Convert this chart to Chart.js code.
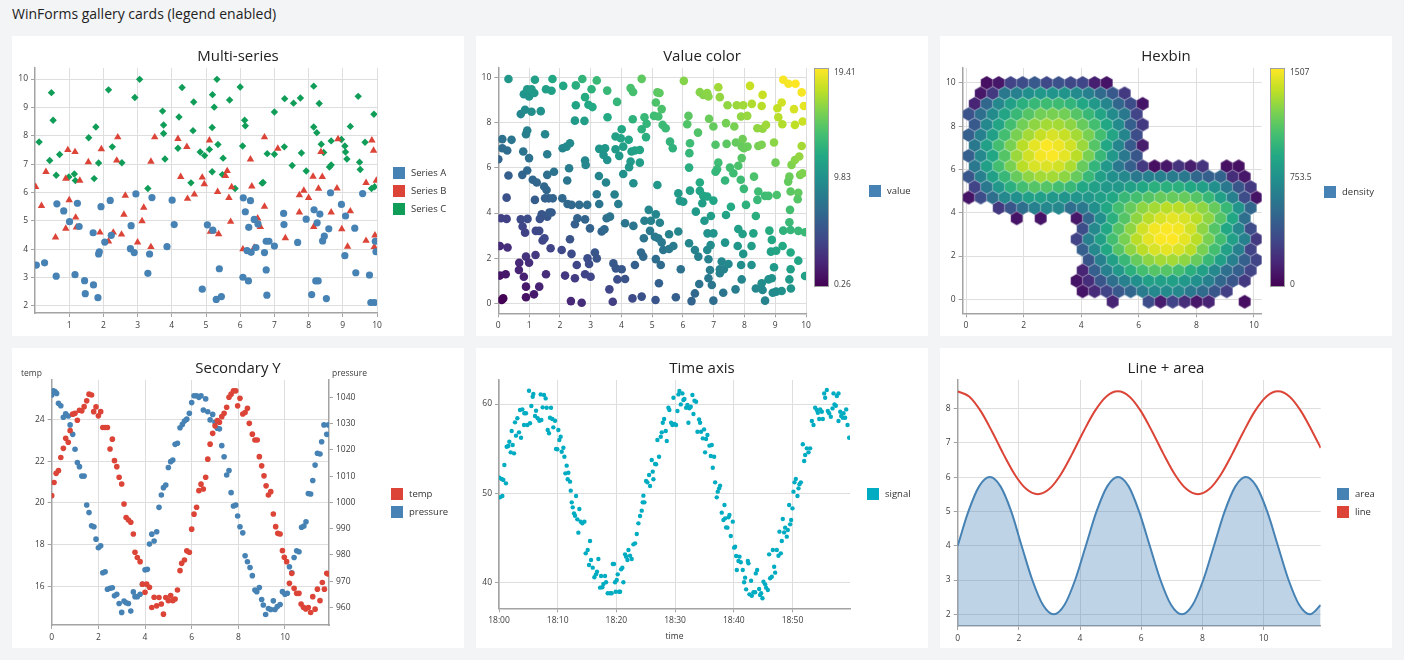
<!DOCTYPE html>
<html lang="en">
<head>
<meta charset="UTF-8" />
<title>WinForms gallery cards (legend enabled)</title>
<script src="https://cdn.jsdelivr.net/npm/chart.js"></script>
<style>
  html, body { margin: 0; }
  body { width: 1404px; height: 660px; background: #f3f4f6; font-family: 'Open Sans', sans-serif; position: relative; overflow: hidden; }
  .page-title { position: absolute; left: 12px; top: 4px; font-size: 14px; line-height: 19px; color: #222; }
  .card { position: absolute; width: 452px; height: 300px; background: #fff; }
  .card canvas { position: absolute; left: 0; top: 0; }
  .card-title { position: absolute; left: 0; top: 10px; width: 452px; text-align: center; font-size: 15px; line-height: 18px; color: #222; }
  .legend { position: absolute; font-size: 9.5px; color: #333; }
  .legend .item { position: relative; height: 18px; padding-left: 18px; line-height: 12px; white-space: nowrap; }
  .legend .swatch { position: absolute; left: 0; top: 0; width: 12px; height: 12px; }
  .cbar { position: absolute; width: 13px; height: 217px; border: 1.5px solid #a0a0a0; }
  .small-label { position: absolute; font-size: 8.5px; line-height: 10px; color: #3c3c3c; white-space: nowrap; }
</style>
</head>
<body>
<div class="page-title" id="pageTitle"></div>

<div class="card" id="card1" style="left:12px;top:36px"><canvas id="c1" width="452" height="300"></canvas></div>
<div class="card" id="card2" style="left:476px;top:36px"><canvas id="c2" width="452" height="300"></canvas></div>
<div class="card" id="card3" style="left:940px;top:36px"><canvas id="c3" width="452" height="300"></canvas></div>
<div class="card" id="card4" style="left:12px;top:348px"><canvas id="c4" width="452" height="300"></canvas></div>
<div class="card" id="card5" style="left:476px;top:348px"><canvas id="c5" width="452" height="300"></canvas></div>
<div class="card" id="card6" style="left:940px;top:348px"><canvas id="c6" width="452" height="300"></canvas></div>

<script>
  // ---------------- data ----------------
  const pageTitle = 'WinForms gallery cards (legend enabled)';
  const cardTitles = ['Multi-series', 'Value color', 'Hexbin', 'Secondary Y', 'Time axis', 'Line + area'];

  // Multi-series
  const seriesNames = ['Series A', 'Series B', 'Series C'];
  const seriesA = [[0.04,3.44],[0.28,3.52],[0.62,3.05],[0.64,5.6],[0.84,5.35],[1.01,4.97],[1.17,3.1],[1.24,5.62],[1.29,4.8],[1.45,2.89],[1.47,2.43],[1.7,4.58],[1.71,2.74],[1.84,2.29],[1.86,3.83],[1.88,3.91],[1.93,5.5],[2.04,4.25],[2.2,5.72],[2.23,4.49],[2.79,4.02],[2.81,4.83],[2.9,3.88],[2.95,5.95],[3.3,3.15],[3.35,3.83],[3.42,5.82],[3.86,4.09],[4.01,5.73],[4.07,4.87],[4.89,2.59],[5.04,4.86],[5.2,4.67],[5.3,2.23],[5.39,3.31],[5.45,2.33],[6.08,3.01],[6.09,5.81],[6.15,5.32],[6.2,3.95],[6.24,2.88],[6.25,4.77],[6.3,5.71],[6.32,3.89],[6.41,5.05],[6.46,4.06],[6.52,4.89],[6.71,3.88],[6.76,3.27],[6.76,4.28],[6.78,2.38],[6.84,4.28],[7.0,4.11],[7.27,5.26],[7.28,4.87],[7.68,4.24],[7.93,5.06],[8.09,2.4],[8.16,5.39],[8.21,2.88],[8.25,4.93],[8.28,2.88],[8.33,5.24],[8.41,4.29],[8.46,4.46],[8.52,2.26],[8.59,4.72],[8.64,5.99],[8.96,5.58],[9.06,3.77],[9.08,5.17],[9.35,4.74],[9.38,3.17],[9.58,5.96],[9.78,3.09],[9.82,2.12],[9.92,2.12],[9.95,4.28],[9.97,3.91]];
  const seriesB = [[0.02,6.2],[0.19,5.53],[0.32,6.73],[0.6,4.42],[0.9,4.73],[0.9,6.49],[0.96,7.5],[1.0,5.73],[1.17,7.43],[1.19,5.12],[1.21,4.77],[1.31,6.42],[1.56,7.07],[1.9,4.59],[1.94,7.53],[2.15,4.28],[2.29,4.59],[2.39,7.13],[2.42,7.95],[2.53,4.52],[2.6,5.22],[2.64,5.89],[3.0,4.24],[3.13,4.99],[3.18,5.47],[3.39,7.09],[3.39,4.08],[3.5,7.95],[4.18,7.89],[4.26,6.55],[4.44,7.61],[4.46,5.78],[4.66,5.93],[4.89,6.53],[4.95,6.3],[5.1,7.84],[5.13,4.62],[5.22,4.64],[5.34,6.02],[5.37,4.53],[5.57,6.59],[5.62,6.76],[5.67,5.81],[5.72,4.97],[5.75,6.19],[6.08,4.0],[6.3,7.17],[6.34,6.22],[6.41,4.06],[6.51,5.09],[6.59,4.79],[6.71,7.95],[6.71,5.5],[7.1,7.55],[7.32,4.39],[7.73,5.91],[7.73,5.3],[7.86,6.07],[8.0,5.81],[8.15,4.79],[8.13,6.56],[8.29,6.14],[8.36,7.43],[8.4,6.55],[8.66,5.3],[8.83,6.15],[8.86,7.88],[8.97,4.71],[9.14,4.09],[9.22,5.34],[9.68,4.3],[9.68,6.34],[9.85,7.84],[9.9,7.48],[9.92,4.08],[9.94,4.49],[9.98,6.42]];
  const seriesC = [[0.12,7.78],[0.43,7.13],[0.48,9.52],[0.53,8.55],[0.62,6.61],[0.72,7.34],[0.99,6.55],[1.15,6.65],[1.18,6.42],[1.57,7.93],[1.73,6.49],[1.78,8.31],[1.86,7.04],[2.15,9.62],[2.26,7.61],[2.54,7.05],[2.92,9.35],[3.06,9.99],[3.3,6.14],[3.73,8.87],[3.76,8.38],[3.76,8.08],[3.8,7.18],[4.21,8.66],[4.18,7.56],[4.3,9.7],[4.56,6.34],[4.64,9.19],[4.62,8.18],[4.83,7.43],[4.96,7.3],[5.1,7.52],[5.18,8.29],[5.19,9.45],[5.18,6.73],[5.24,9.01],[5.32,9.99],[5.35,7.69],[5.5,7.21],[5.48,6.63],[5.69,9.26],[5.85,6.14],[6.0,9.72],[6.07,7.64],[6.13,8.55],[6.15,8.35],[6.64,6.33],[6.67,6.35],[6.79,7.37],[7.0,8.84],[7.0,7.35],[7.29,7.61],[7.3,9.31],[7.52,6.95],[7.56,9.15],[7.76,9.33],[7.79,7.39],[7.93,6.76],[8.15,9.75],[8.15,8.31],[8.24,8.11],[8.31,9.14],[8.37,7.7],[8.44,7.41],[8.61,6.9],[8.66,6.97],[8.66,7.82],[8.96,7.87],[9.06,7.64],[9.08,7.43],[9.12,7.18],[9.22,8.33],[9.45,9.39],[9.49,7.07],[9.51,6.81],[9.65,7.77],[9.84,6.14],[9.91,8.76],[9.93,6.2]];
  const multiXTicks = [1, 2, 3, 4, 5, 6, 7, 8, 9, 10];
  const multiYTicks = [2, 3, 4, 5, 6, 7, 8, 9, 10];

  // Value color: [x, y, value]
  const valueNames = ['value'];
  const valuePoints = [
    [0.33,9.93,10.3],[0.73,8.38,9.1],[0.87,8.57,9.4],[1.08,8.48,9.6],[1.38,8.51,9.9],[0.83,9.26,10.1],[0.94,9.48,10.4],[1.0,9.16,10.2],[1.08,9.48,10.6],[1.17,9.31,10.5],
    [1.19,9.9,11.1],[1.55,9.48,11.0],[1.73,9.41,11.1],[1.76,9.93,11.7],[2.11,9.63,11.7],[2.52,9.65,12.2],[2.52,8.77,11.3],[2.49,8.09,10.6],[2.8,8.08,10.9],[2.73,9.93,12.7],
    [2.82,9.13,12.0],[2.93,8.79,11.7],[3.06,8.69,11.8],[3.03,9.48,12.5],[3.2,9.87,13.1],[3.54,9.42,13.0],[3.55,8.24,11.8],[3.86,8.92,12.8],[4.3,9.53,13.8],[4.38,9.36,13.7],
    [4.37,8.15,12.5],[4.66,9.94,14.6],[4.75,8.24,13.0],[4.82,7.95,12.8],[4.66,7.71,12.4],[4.8,7.36,12.2],[5.06,8.3,13.4],[5.12,8.89,14.0],[5.17,9.34,14.5],[5.24,9.31,14.6],
    [5.31,8.6,13.9],[5.2,8.27,13.5],[5.34,7.9,13.2],[5.44,7.75,13.2],[5.58,7.16,12.7],[5.67,6.87,12.5],[6.03,9.85,15.9],[6.18,8.3,14.5],[6.14,7.93,14.1],[6.23,7.09,13.3],
    [6.21,6.65,12.9],[6.2,6.01,12.2],[6.49,7.56,14.1],[6.55,9.35,15.9],[6.66,9.23,15.9],[6.79,9.31,16.1],[6.83,9.16,16.0],[6.85,8.17,15.0],[6.99,7.83,14.8],[7.06,7.02,14.1],
    [7.15,9.57,16.7],[7.2,9.13,16.3],[7.4,7.98,15.4],[7.45,8.77,16.2],[7.75,8.77,16.5],[7.67,7.83,15.5],[7.96,8.77,16.7],[7.89,8.27,16.2],[8.18,9.63,17.8],[8.24,8.83,17.1],
    [8.09,8.3,16.4],[8.59,9.23,17.8],[8.56,8.74,17.3],[8.42,7.75,16.2],[8.59,7.73,16.3],[8.7,7.9,16.6],[9.26,9.9,19.2],[9.43,9.72,19.2],[9.66,9.72,19.4],[9.86,9.34,19.2],
    [9.21,8.89,18.1],[9.07,8.64,17.7],[9.1,8.24,17.3],[9.23,7.93,17.2],[9.61,8.6,18.2],[9.64,7.9,17.5],[9.93,8.74,18.7],[9.89,8.05,17.9],
    [0.13,7.27,7.4],[0.43,7.24,7.7],[0.0,6.38,6.4],[0.13,6.87,7.0],[0.29,6.77,7.1],[0.33,5.66,6.0],[0.27,4.68,5.0],[0.94,7.65,8.6],[0.9,7.49,8.4],[0.81,6.72,7.5],
    [1.0,6.43,7.4],[0.94,5.88,6.8],[0.78,5.69,6.5],[1.52,7.49,9.0],[1.59,6.6,8.2],[1.59,5.69,7.3],[1.81,5.83,7.6],[1.12,5.47,6.6],[1.25,5.35,6.6],[1.49,5.17,6.7],
    [1.57,5.02,6.6],[1.64,4.65,6.3],[1.77,4.65,6.4],[1.19,4.58,5.8],[1.52,4.65,6.2],[2.09,6.87,9.0],[2.22,6.94,9.2],[2.33,7.09,9.4],[2.3,5.98,8.3],[2.24,5.44,7.7],
    [2.08,4.65,6.7],[2.25,4.4,6.7],[2.38,4.36,6.7],[2.63,4.36,7.0],[2.89,4.36,7.3],[2.82,6.32,9.1],[2.84,6.13,9.0],[3.28,6.84,10.1],[3.47,6.87,10.3],[3.42,6.57,10.0],
    [3.54,6.35,9.9],[3.27,5.64,8.9],[3.5,5.35,8.9],[3.2,4.83,8.0],[3.28,4.4,7.7],[3.78,4.82,8.6],[3.9,4.4,8.3],[3.81,7.39,11.2],[4.01,7.71,11.7],[3.98,7.31,11.3],
    [4.06,6.94,11.0],[3.81,6.82,10.6],[3.93,6.53,10.5],[4.24,7.24,11.5],[4.33,6.72,11.1],[4.3,6.28,10.6],[4.25,6.03,10.3],[4.44,6.77,11.2],[4.6,6.79,11.4],[4.6,6.23,10.8],
    [4.06,5.73,9.8],[4.39,5.32,9.7],[5.17,5.24,10.4],[5.85,4.87,10.7],[5.9,4.53,10.4],[6.01,4.5,10.5],[6.23,4.99,11.2],[6.55,5.35,11.9],[6.55,4.98,11.5],[6.66,4.76,11.4],
    [6.79,4.73,11.5],[6.63,4.43,11.1],[6.42,4.06,10.5],[6.7,3.66,10.4],[6.91,3.87,10.8],[6.99,4.55,11.5],[7.15,6.23,13.4],[7.11,5.94,13.1],[7.06,5.83,12.9],[7.37,5.44,12.8],
    [7.56,4.28,11.8],[7.4,3.91,11.3],[7.42,7.06,14.5],[7.53,6.01,13.5],[7.64,5.76,13.4],[7.72,7.12,14.8],[7.8,6.09,13.9],[7.94,7.27,15.2],[7.91,6.94,14.9],[7.98,6.87,14.9],
    [7.91,6.43,14.3],[7.88,5.47,13.4],[7.98,5.07,13.1],[8.1,6.94,15.0],[8.31,5.61,13.9],[8.05,4.36,12.4],[8.45,6.97,15.4],[8.56,7.02,15.6],[8.45,4.95,13.4],[8.42,4.58,13.0],
    [8.67,4.76,13.4],[8.78,4.76,13.5],[8.37,3.87,12.2],[8.96,7.12,16.1],[9.01,6.23,15.2],[9.05,4.8,13.9],[9.53,6.13,15.7],[9.64,6.35,16.0],[9.78,6.5,16.3],[9.86,6.97,16.8],
    [9.81,5.69,15.5],[9.89,5.76,15.7],[9.46,5.61,15.1],[9.42,5.39,14.8],[9.5,4.95,14.5],[9.75,4.9,14.7],[9.73,4.61,14.3],[9.48,4.14,13.6],[9.46,3.59,13.1],
    [0.09,3.77,3.9],[0.27,3.74,4.0],[0.73,3.72,4.5],[0.95,3.74,4.7],[0.79,3.4,4.2],[0.87,3.13,4.0],[1.22,3.21,4.4],[1.33,3.21,4.5],[1.35,3.74,5.1],[1.41,3.94,5.4],
    [1.59,3.84,5.4],[1.66,4.02,5.7],[1.73,4.02,5.8],[1.44,2.78,4.2],[1.5,2.88,4.4],[1.7,2.44,4.1],[0.05,2.54,2.6],[0.3,2.47,2.8],[0.9,2.07,3.0],[1.21,2.14,3.4],
    [1.0,1.8,2.8],[0.68,1.8,2.5],[0.67,1.48,2.2],[0.83,1.18,2.0],[0.05,1.23,1.3],[0.24,1.29,1.5],[0.9,0.74,1.6],[1.33,0.74,2.1],[1.16,0.4,1.6],[0.9,0.27,1.2],
    [0.16,0.22,0.4],[0.11,0.15,0.3],[1.55,1.29,2.8],[2.06,2.36,4.4],[2.33,2.84,5.2],[2.49,3.5,6.0],[2.57,3.77,6.3],[2.82,3.72,6.5],[2.98,3.32,6.3],[2.38,2.19,4.6],
    [2.55,1.7,4.3],[2.9,1.99,4.9],[2.95,1.74,4.7],[3.14,2.25,5.4],[3.2,1.99,5.2],[2.17,1.23,3.4],[2.49,1.11,3.6],[2.82,1.29,4.1],[3.0,1.18,4.2],[2.36,0.1,2.5],
    [2.71,0.03,2.7],[3.36,3.18,6.5],[3.45,3.28,6.7],[3.52,3.77,7.3],[3.63,3.84,7.5],[3.74,1.77,5.5],[3.82,1.55,5.4],[4.01,1.51,5.5],[3.87,1.06,4.9],[4.12,1.08,5.2],
    [3.61,0.62,4.2],[3.72,0.07,3.8],[4.12,3.55,7.7],[4.39,3.43,7.8],[4.44,1.7,6.1],[4.36,0.22,4.6],[4.66,0.3,5.0],[4.64,2.25,6.9],[4.71,2.07,6.8],[4.73,2.88,7.6],
    [4.75,3.66,8.4],[4.96,3.66,8.6],[4.89,4.14,9.0],[5.12,3.94,9.1],[5.25,3.57,8.8],[4.93,3.21,8.1],[5.09,2.95,8.0],[5.2,2.88,8.1],[5.31,2.7,8.0],[5.36,2.36,7.7],
    [5.55,2.41,8.0],[5.55,3.06,8.6],[5.69,2.54,8.2],[5.12,1.96,7.1],[5.28,1.7,7.0],[5.22,0.89,6.1],[5.11,0.15,5.3],[5.77,0.27,6.0],[5.93,1.51,7.4],[5.85,3.18,9.0],
    [6.2,2.66,8.9],[6.39,2.36,8.8],[6.5,2.07,8.6],[6.53,0.86,7.4],[6.39,0.44,6.8],[6.28,0.1,6.4],[6.8,3.1,9.9],[6.99,3.1,10.1],[6.9,2.58,9.5],[6.79,2.36,9.2],
    [6.83,1.95,8.8],[6.88,1.48,8.4],[6.83,1.11,7.9],[6.94,0.81,7.8],[6.99,0.12,7.1],[7.26,1.85,9.1],[7.2,1.51,8.7],[7.2,1.33,8.5],[7.33,1.51,8.8],[7.48,1.74,9.2],
    [7.37,2.69,10.1],[7.31,0.47,7.8],[7.71,0.62,8.3],[7.8,3.29,11.1],[7.94,3.07,11.0],[7.78,2.54,10.3],[7.96,2.19,10.2],[7.89,1.7,9.6],[7.91,1.06,9.0],[8.23,2.54,10.8],
    [8.29,3.1,11.4],[8.23,1.7,9.9],[8.81,3.22,12.0],[8.89,2.81,11.7],[8.86,2.29,11.2],[9.03,2.33,11.4],[8.96,1.6,10.6],[9.26,3.22,12.5],[9.5,3.25,12.8],[9.75,3.21,13.0],
    [9.97,3.15,13.1],[9.24,2.54,11.8],[9.5,2.25,11.8],[9.75,1.89,11.6],[9.5,1.51,11.0],[9.46,1.06,10.5],[9.51,0.66,10.2],[9.21,0.55,9.8],[9.03,0.52,9.6],[8.89,1.11,10.0],
    [8.78,1.06,9.8],[8.56,0.89,9.5],[8.37,0.66,9.0],[8.59,0.59,9.2],[8.67,0.12,8.8],[8.92,0.47,9.4],[9.97,1.21,11.2]
  ];
  const valueRange = [0.26, 19.41];
  const valueBarLabels = ['19.41', '9.83', '0.26'];
  const valueXTicks = [0, 1, 2, 3, 4, 5, 6, 7, 8, 9, 10];
  const valueYTicks = [0, 2, 4, 6, 8, 10];

  // Hexbin: one entry per hex row, top row first: [first column, densities]
  const densityNames = ['density'];
  const hexRows = [
    [2, [60,100,300,350,420,330,380,330,320,130,80]],
    [1, [100,250,600,650,750,800,780,780,720,650,520,420,250]],
    [1, [150,500,700,850,950,1000,1030,1030,980,900,800,680,500,350,80]],
    [0, [380,550,720,880,1000,1100,1180,1200,1180,1100,1000,880,720,600,300]],
    [1, [420,700,880,1050,1180,1250,1300,1300,1250,1150,1050,900,720,450,250]],
    [0, [450,650,850,1050,1200,1300,1380,1420,1380,1300,1200,1050,880,680,350]],
    [1, [600,850,1050,1200,1350,1450,1500,1470,1400,1280,1100,900,680,430,120]],
    [0, [450,700,900,1100,1280,1400,1480,1500,1450,1350,1200,1000,800,600,400]],
    [1, [600,850,1050,1200,1350,1420,1430,1400,1320,1150,980,800,600,450,250,60,100,220,120,230,null,70,70]],
    [0, [400,650,850,1000,1150,1250,1300,1300,1250,1150,1000,850,750,700,600,650,650,620,600,500,450,480,200,100]],
    [1, [300,600,800,950,1050,1100,1100,1050,1000,900,850,800,800,850,900,950,950,950,900,850,750,600,400,250]],
    [0, [80,350,550,700,750,850,850,800,780,780,800,850,900,1000,1050,1100,1150,1150,1150,1100,1000,850,650,350,80]],
    [3, [250,400,550,650,700,700,550,600,750,900,1050,1150,1250,1300,1350,1350,1300,1250,1150,1000,780,500]],
    [4, [80,null,80,null,null,100,500,750,950,1100,1250,1350,1420,1450,1420,1350,1250,1100,900,550]],
    [10, [350,700,900,1100,1250,1400,1480,1500,1480,1400,1250,1100,900,700,350]],
    [9, [300,650,850,1050,1200,1350,1450,1500,1507,1450,1350,1200,1050,850,650,250]],
    [10, [450,700,900,1100,1250,1350,1420,1450,1420,1350,1200,1050,850,650,300]],
    [10, [400,650,850,1000,1150,1250,1300,1300,1250,1150,1000,850,650,450,300]],
    [10, [150,450,650,800,950,1050,1100,1100,1050,950,850,700,550,450,300]],
    [9, [80,200,400,550,650,750,850,850,850,800,750,650,500,400,250]],
    [10, [80,180,300,420,500,620,700,720,700,600,520,400,280]],
    [12, [150,null,null,350,120,300,200,100,150,null,null,60]]
  ];
  const densityRange = [0, 1507];
  const densityBarLabels = ['1507', '753.5', '0'];
  const hexXTicks = [0, 2, 4, 6, 8, 10];
  const hexYTicks = [0, 2, 4, 6, 8, 10];

  // Secondary Y
  const secNames = ['temp', 'pressure'];
  const tempPoints = [[0,20.35],[0.1,20.98],[0.19,21.42],[0.29,21.55],[0.39,22.18],[0.5,22.62],[0.6,23.1],[0.71,22.91],[0.79,23.47],[0.9,24.26],[1.0,24.3],[1.1,23.97],[1.19,24.45],[1.29,24.42],[1.39,24.62],[1.5,24.9],[1.6,25.22],[1.71,25.18],[1.8,24.38],[1.9,24.61],[2.0,24.18],[2.1,24.38],[2.19,23.62],[2.29,23.62],[2.39,23.62],[2.5,22.59],[2.6,23.06],[2.69,22.03],[2.79,21.74],[2.89,21.23],[3.0,20.91],[3.1,19.95],[3.19,19.3],[3.29,19.18],[3.39,19.07],[3.5,18.51],[3.57,17.63],[3.67,17.38],[3.79,17.18],[3.89,16.1],[4.0,15.71],[4.07,16.1],[4.19,15.95],[4.29,14.98],[4.39,15.47],[4.5,15.06],[4.6,15.46],[4.7,15.15],[4.79,14.66],[4.89,15.46],[5.0,15.31],[5.1,15.55],[5.19,15.31],[5.29,15.39],[5.39,15.82],[5.5,16.75],[5.57,17.1],[5.69,17.26],[5.79,17.7],[5.9,17.63],[6.0,18.74],[6.1,19.46],[6.21,19.79],[6.31,20.59],[6.4,20.9],[6.5,20.67],[6.6,21.23],[6.69,22.1],[6.79,22.82],[6.9,23.34],[7.0,23.7],[7.1,23.95],[7.19,23.87],[7.29,24.14],[7.39,24.3],[7.5,24.59],[7.6,25.07],[7.69,25.22],[7.79,25.38],[7.89,25.38],[7.97,24.66],[8.07,25.02],[8.19,24.27],[8.29,24.34],[8.39,24.54],[8.47,23.82],[8.6,23.3],[8.71,23.02],[8.81,23.02],[8.9,22.22],[9.0,21.78],[9.1,21.3],[9.19,20.82],[9.29,20.38],[9.39,20.54],[9.5,19.47],[9.6,18.86],[9.69,18.54],[9.79,18.51],[9.89,17.71],[9.97,17.39],[10.07,17.18],[10.19,16.14],[10.29,16.62],[10.39,15.9],[10.5,15.66],[10.6,15.66],[10.69,15.15],[10.79,14.99],[10.89,14.91],[11.0,14.98],[11.1,14.74],[11.19,15.5],[11.29,14.9],[11.39,15.86],[11.5,15.31],[11.6,16.18],[11.69,15.86],[11.79,16.62],[11.86,16.59]];
  const pressurePoints = [[0,1040.9],[0.07,1042.5],[0.14,1042.2],[0.21,1041.5],[0.29,1037.7],[0.39,1036.8],[0.5,1032.4],[0.6,1033.7],[0.71,1032.9],[0.79,1029.5],[0.9,1025.9],[1.0,1020.2],[1.1,1015.2],[1.19,1013.6],[1.29,1010.0],[1.39,1010.0],[1.5,999.0],[1.6,996.1],[1.71,991.1],[1.81,990.7],[1.9,986.0],[2.0,982.7],[2.1,983.5],[2.19,973.2],[2.29,973.6],[2.39,966.9],[2.5,967.3],[2.6,967.5],[2.69,964.4],[2.79,965.0],[2.89,961.5],[3.0,958.1],[3.1,962.4],[3.19,961.8],[3.29,961.5],[3.39,958.6],[3.5,965.9],[3.57,964.1],[3.67,964.1],[3.79,965.0],[3.89,968.8],[4.0,974.3],[4.1,974.5],[4.19,984.1],[4.29,987.9],[4.39,985.3],[4.5,988.8],[4.6,998.1],[4.7,1002.8],[4.79,1005.6],[4.89,1006.6],[5.0,1013.3],[5.1,1015.5],[5.19,1016.1],[5.29,1022.1],[5.39,1022.5],[5.5,1028.4],[5.6,1029.7],[5.69,1031.0],[5.79,1031.7],[5.9,1033.9],[6.0,1038.0],[6.1,1040.6],[6.21,1040.6],[6.31,1040.0],[6.4,1040.6],[6.5,1035.2],[6.6,1039.4],[6.69,1034.5],[6.79,1031.4],[6.9,1033.5],[7.0,1030.5],[7.1,1028.2],[7.19,1028.0],[7.29,1021.6],[7.39,1017.4],[7.5,1010.4],[7.6,1012.1],[7.69,1003.7],[7.79,998.6],[7.89,999.0],[7.97,994.8],[8.07,990.7],[8.19,988.4],[8.29,979.7],[8.39,977.4],[8.5,975.2],[8.6,972.1],[8.71,966.6],[8.79,966.0],[8.9,967.6],[9.0,963.0],[9.07,960.9],[9.17,957.3],[9.29,959.6],[9.39,959.2],[9.5,962.5],[9.57,959.2],[9.67,960.3],[9.79,961.1],[9.89,966.0],[10.0,965.0],[10.1,965.4],[10.19,975.5],[10.29,973.2],[10.39,979.0],[10.5,981.6],[10.6,981.2],[10.71,990.5],[10.81,991.0],[10.9,992.6],[11.0,1003.4],[11.1,1003.2],[11.19,1008.3],[11.29,1014.2],[11.39,1018.7],[11.5,1018.4],[11.57,1023.1],[11.67,1029.5],[11.79,1025.9],[11.86,1029.5]];
  const secXTicks = [0, 2, 4, 6, 8, 10];
  const tempTicks = [16, 18, 20, 22, 24];
  const pressureTicks = [960, 970, 980, 990, 1000, 1010, 1020, 1030, 1040];

  // Time axis: [minutes after 18:00, value]
  const signalNames = ['signal'];
  const signalPoints = [[0.06,51.75],[0.17,49.55],[0.45,51.6],[0.57,49.7],[0.74,51.5],[0.91,53.17],[1.19,51.12],[1.31,55.22],[1.59,55.3],[1.76,55.78],[1.99,54.59],[2.16,56.98],[2.33,55.41],[2.56,54.48],[2.73,57.95],[2.9,56.46],[3.13,58.4],[3.41,56.83],[3.58,59.33],[3.75,56.23],[3.98,59.4],[4.26,57.65],[4.32,58.96],[4.6,58.96],[4.83,57.65],[5.11,61.49],[5.28,57.84],[5.51,59.78],[5.74,60.82],[5.85,61.12],[6.14,58.66],[6.31,59.25],[6.59,58.4],[6.88,58.13],[7.1,61.08],[7.22,58.21],[7.44,59.63],[7.67,61.01],[7.95,60.63],[8.13,59.59],[8.3,57.09],[8.52,56.72],[8.69,58.47],[8.86,59.59],[9.09,58.32],[9.26,57.39],[9.55,58.13],[9.72,54.96],[9.94,54.93],[10.11,57.09],[10.28,55.97],[10.51,56.34],[10.68,54.66],[10.97,55.11],[11.14,54.1],[11.31,52.24],[11.53,53.1],[11.7,51.57],[11.82,52.31],[12.1,51.31],[12.22,50.3],[12.39,48.99],[12.56,48.43],[12.78,47.76],[12.95,47.5],[13.13,49.7],[13.35,47.09],[13.52,45.6],[13.69,48.25],[13.92,46.83],[14.2,46.64],[14.55,46.83],[14.77,43.28],[15.11,43.66],[15.34,41.98],[15.51,44.66],[15.68,42.54],[15.97,41.68],[16.25,40.6],[16.53,40.93],[16.7,41.23],[16.93,42.65],[17.22,39.44],[17.39,40.75],[17.61,39.48],[17.78,39.85],[18.07,40.75],[18.24,40.04],[18.52,38.81],[18.92,38.81],[19.2,38.81],[19.38,42.09],[19.6,42.09],[19.77,40.04],[19.89,38.99],[20.06,40.3],[20.23,40.93],[20.45,38.99],[20.63,38.99],[20.8,41.49],[21.02,41.68],[21.19,40.04],[21.48,43.17],[21.65,42.91],[21.88,42.54],[22.05,43.66],[22.33,43.02],[22.61,42.65],[22.9,44.29],[23.18,44.4],[23.47,45.45],[23.75,46.64],[24.03,47.46],[24.32,48.06],[24.49,48.99],[24.6,49.74],[24.77,48.99],[25.06,51.38],[25.28,51.23],[25.57,52.05],[25.74,50.82],[26.02,53.73],[26.19,52.43],[26.31,51.57],[26.59,53.28],[26.76,53.25],[26.99,55.97],[27.27,54.1],[27.56,56.34],[27.73,56.83],[27.9,57.91],[28.13,58.32],[28.41,56.98],[28.58,55.86],[28.86,59.59],[29.03,59.33],[29.32,57.91],[29.55,57.65],[29.72,60.71],[29.89,57.76],[30.17,57.65],[30.4,59.22],[30.57,61.08],[30.74,61.46],[30.97,59.96],[31.25,61.19],[31.42,60.45],[31.59,60.56],[31.88,59.59],[32.1,59.89],[32.27,57.91],[32.44,59.52],[32.67,59.7],[32.95,61.01],[33.13,58.88],[33.3,60.37],[33.58,60.26],[33.81,56.9],[34.09,58.28],[34.26,57.91],[34.43,56.9],[34.72,56.16],[34.94,57.16],[35.11,54.59],[35.28,56.08],[35.51,56.53],[35.85,55.34],[36.08,54.18],[36.25,55.41],[36.42,52.87],[36.65,54.1],[36.82,51.23],[37.1,49.55],[37.27,50.19],[37.5,50.56],[37.67,50.86],[37.95,47.84],[38.24,47.01],[38.41,48.69],[38.52,47.2],[38.69,46.19],[38.92,46.16],[39.09,47.31],[39.26,47.57],[39.49,45.22],[39.83,46.83],[40.06,43.92],[40.23,44.03],[40.4,42.99],[40.51,41.42],[40.8,42.43],[40.97,42.91],[41.19,42.28],[41.53,41.42],[41.76,40.04],[41.93,40.56],[42.1,39.25],[42.39,42.43],[42.5,42.16],[42.67,38.69],[42.95,40.22],[43.07,38.54],[43.35,38.92],[43.64,38.92],[43.75,41.04],[43.98,41.42],[44.32,39.29],[44.49,38.62],[44.66,38.81],[44.89,38.25],[45.06,40.11],[45.34,39.81],[45.51,39.44],[45.8,39.18],[46.02,43.17],[46.19,40.49],[46.48,40.67],[46.65,43.66],[46.88,41.79],[47.05,41.12],[47.33,43.66],[47.61,43.02],[47.78,45.71],[48.01,43.28],[48.18,44.66],[48.35,47.13],[48.58,45.63],[48.75,46.16],[49.03,45.15],[49.2,45.9],[49.43,48.69],[49.6,46.53],[49.77,47.01],[50.0,48.32],[50.17,50.19],[50.34,51.23],[50.57,51.6],[50.85,49.7],[51.02,50.56],[51.19,51.01],[51.42,51.23],[51.76,55.49],[51.99,53.62],[52.16,54.29],[52.44,55.04],[52.73,54.59],[53.01,55.04],[53.3,58.1],[53.58,57.65],[53.86,59.59],[54.15,59.33],[54.32,59.03],[54.55,58.32],[54.72,59.4],[55.0,59.14],[55.17,58.32],[55.4,61.19],[55.57,60.71],[55.85,61.57],[56.02,59.22],[56.25,58.96],[56.53,58.58],[56.82,59.51],[56.99,61.19],[57.16,59.96],[57.39,59.81],[57.56,60.9],[57.84,61.19],[57.84,58.1],[58.13,59.14],[58.3,58.66],[58.58,58.47],[58.69,58.96],[58.98,58.47],[59.15,59.4],[59.38,57.65],[59.66,56.23]];
  const timeTicks = [0, 10, 20, 30, 40, 50];
  const timeLabels = ['18:00', '18:10', '18:20', '18:30', '18:40', '18:50'];
  const timeAxisTitle = 'time';
  const signalTicks = [40, 50, 60];

  // Line + area
  const curveNames = ['area', 'line'];
  const areaX = [0,0.35,0.7,1.05,1.4,1.75,2.09,2.44,2.79,3.14,3.49,3.84,4.19,4.54,4.89,5.24,5.59,5.93,6.28,6.63,6.98,7.33,7.68,8.03,8.38,8.73,9.08,9.42,9.77,10.12,10.47,10.82,11.17,11.52,11.87];
  const areaY = [4,5,5.73,6,5.73,5,4,3,2.27,2,2.27,3,4,5,5.73,6,5.73,5,4,3,2.27,2,2.27,3,4,5,5.73,6,5.73,5,4,3,2.27,2,2.27];
  const lineX = [0,0.374,0.748,1.122,1.496,1.87,2.244,2.618,2.992,3.366,3.74,4.114,4.488,4.862,5.236,5.61,5.984,6.358,6.732,7.106,7.48,7.854,8.228,8.602,8.976,9.35,9.724,10.098,10.472,10.846,11.22,11.594,11.87];
  const lineY = [8.5,8.35,7.93,7.33,6.67,6.07,5.65,5.5,5.65,6.07,6.67,7.33,7.93,8.35,8.5,8.35,7.93,7.33,6.67,6.07,5.65,5.5,5.65,6.07,6.67,7.33,7.93,8.35,8.5,8.35,7.93,7.33,6.85];
  const curveXTicks = [0, 2, 4, 6, 8, 10];
  const curveYTicks = [2, 3, 4, 5, 6, 7, 8];

  // ---------------- styling helpers ----------------
  const BLUE = '#4682b4', RED = '#db4437', GREEN = '#0f9d58', CYAN = '#00acc1';
  const VIRIDIS = ['#440154','#482475','#414487','#355f8d','#2a788e','#21918c','#22a884','#44bf70','#7ad151','#bddf26','#fde725'];
  const VIRIDIS_RGB = VIRIDIS.map(h => [1, 3, 5].map(i => parseInt(h.substr(i, 2), 16)));

  function viridis(t) {
    t = Math.min(1, Math.max(0, t)) * (VIRIDIS.length - 1);
    const i = Math.min(VIRIDIS.length - 2, Math.floor(t)), f = t - i;
    const a = VIRIDIS_RGB[i], b = VIRIDIS_RGB[i + 1];
    return 'rgb(' + a.map((v, k) => Math.round(v + (b[k] - v) * f)).join(',') + ')';
  }

  Chart.defaults.font.family = "'Open Sans', sans-serif";
  Chart.defaults.color = '#3c3c3c';

  const GRID = '#dedede', AXIS = '#a3a3a3';

  function linAxis(min, max, ticks, size, extra) {
    const ax = {
      type: 'linear', min, max,
      afterBuildTicks: s => { s.ticks = ticks.map(v => ({ value: v })); },
      afterFit: s => { if (s.isHorizontal()) s.height = size; else s.width = size; },
      grid: { color: GRID, lineWidth: 1, tickLength: 4, tickColor: AXIS },
      border: { color: AXIS, width: 1.5 },
      ticks: { color: '#3c3c3c', font: { size: 8.5 }, padding: 3, maxRotation: 0, autoSkip: false, callback: v => String(v) }
    };
    if (extra) {
      if (extra.grid) Object.assign(ax.grid, extra.grid);
      if (extra.ticks) Object.assign(ax.ticks, extra.ticks);
      if (extra.position) ax.position = extra.position;
      if (extra.title) ax.title = extra.title;
    }
    return ax;
  }

  function baseOptions(padRight, scales) {
    return {
      responsive: false,
      animation: false,
      events: [],
      layout: { padding: { top: 32, right: padRight, left: 0, bottom: 0 } },
      plugins: { legend: { display: false }, tooltip: { enabled: false } },
      scales
    };
  }

  // ---------------- html bits (titles, legends, colour bars) ----------------
  document.getElementById('pageTitle').textContent = pageTitle;
  cardTitles.forEach((t, i) => {
    const d = document.createElement('div');
    d.className = 'card-title';
    d.textContent = t;
    document.getElementById('card' + (i + 1)).appendChild(d);
  });

  function addLegend(cardId, left, top, names, colors) {
    const box = document.createElement('div');
    box.className = 'legend';
    box.style.left = left + 'px';
    box.style.top = top + 'px';
    names.forEach((n, i) => {
      const it = document.createElement('div');
      it.className = 'item';
      const sw = document.createElement('span');
      sw.className = 'swatch';
      sw.style.background = colors[i];
      it.appendChild(sw);
      it.appendChild(document.createTextNode(n));
      box.appendChild(it);
    });
    document.getElementById(cardId).appendChild(box);
  }

  function addText(cardId, left, top, text) {
    const d = document.createElement('div');
    d.className = 'small-label';
    d.style.left = left + 'px';
    d.style.top = top + 'px';
    d.textContent = text;
    document.getElementById(cardId).appendChild(d);
  }

  function addColorBar(cardId, left, top, labels) {
    const bar = document.createElement('div');
    bar.className = 'cbar';
    bar.style.left = left + 'px';
    bar.style.top = top + 'px';
    bar.style.background = 'linear-gradient(to top,' + VIRIDIS.join(',') + ')';
    document.getElementById(cardId).appendChild(bar);
    const offs = [-1.3, 104, 211];
    labels.forEach((t, i) => addText(cardId, left + 20, top + offs[i], t));
  }

  addLegend('card1', 381, 131, seriesNames, [BLUE, RED, GREEN]);
  addLegend('card2', 393, 149, valueNames, [BLUE]);
  addLegend('card3', 384, 150, densityNames, [BLUE]);
  addLegend('card4', 379, 140, secNames, [RED, BLUE]);
  addLegend('card5', 391, 140, signalNames, [CYAN]);
  addLegend('card6', 397, 140, curveNames, [BLUE, RED]);
  addColorBar('card2', 338, 32, valueBarLabels);
  addColorBar('card3', 330, 32, densityBarLabels);
  addText('card4', 9, 20, secNames[0]);
  addText('card4', 320, 20, secNames[1]);

  // ---------------- 1. Multi-series ----------------
  new Chart(document.getElementById('c1'), {
    type: 'scatter',
    data: {
      datasets: [
        { label: seriesNames[0], data: seriesA, pointStyle: 'circle', pointRadius: 3.6, pointBorderWidth: 0, pointBackgroundColor: BLUE },
        { label: seriesNames[1], data: seriesB, pointStyle: 'triangle', pointRadius: 4.3, pointBorderWidth: 0, pointBackgroundColor: RED },
        { label: seriesNames[2], data: seriesC, pointStyle: 'rectRot', pointRadius: 3.7, pointBorderWidth: 0, pointBackgroundColor: GREEN }
      ]
    },
    options: baseOptions(87, {
      x: linAxis(0, 10, multiXTicks, 23),
      y: linAxis(1.75, 10.39, multiYTicks, 23)
    })
  });

  // ---------------- 2. Value color ----------------
  new Chart(document.getElementById('c2'), {
    type: 'scatter',
    data: {
      datasets: [{
        label: valueNames[0],
        data: valuePoints,
        pointRadius: 4.3,
        pointBorderWidth: 0,
        pointBackgroundColor: c => c.raw ? viridis((c.raw[2] - valueRange[0]) / (valueRange[1] - valueRange[0])) : BLUE
      }]
    },
    options: baseOptions(122, {
      x: linAxis(0, 10, valueXTicks, 22.7),
      y: linAxis(-0.44, 10.42, valueYTicks, 22.3)
    })
  });

  // ---------------- 3. Hexbin ----------------
  const HEX_X0 = -0.115, HEX_DX = 0.4167, HEX_Y0 = 10, HEX_DY = 0.4815, HEX_R = 6.95;
  const hexCache = {};
  function hexImage(color) {
    if (hexCache[color]) return hexCache[color];
    const c = document.createElement('canvas');
    c.width = 16; c.height = 16;
    const g = c.getContext('2d');
    g.beginPath();
    for (let k = 0; k < 6; k++) {
      const a = Math.PI / 3 * k - Math.PI / 2;
      const px = 8 + HEX_R * Math.cos(a), py = 8 + HEX_R * Math.sin(a);
      if (k) g.lineTo(px, py); else g.moveTo(px, py);
    }
    g.closePath();
    g.fillStyle = color;
    g.fill();
    g.strokeStyle = 'rgba(255,255,255,0.3)';
    g.lineWidth = 0.6;
    g.stroke();
    hexCache[color] = c;
    return c;
  }
  const hexPoints = [];
  hexRows.forEach(([start, dens], r) => {
    dens.forEach((d, i) => {
      if (d == null) return;
      hexPoints.push({ x: HEX_X0 + (r % 2 ? HEX_DX / 2 : 0) + (start + i) * HEX_DX, y: HEX_Y0 - r * HEX_DY, d });
    });
  });

  new Chart(document.getElementById('c3'), {
    type: 'scatter',
    data: {
      datasets: [{
        label: densityNames[0],
        data: hexPoints,
        pointRadius: 7,
        pointBorderWidth: 0,
        pointBackgroundColor: BLUE,
        pointStyle: c => c.raw ? hexImage(viridis((c.raw.d - densityRange[0]) / (densityRange[1] - densityRange[0]))) : 'circle'
      }]
    },
    options: baseOptions(130.3, {
      x: linAxis(-0.115, 10.27, hexXTicks, 22.7),
      y: linAxis(-0.648, 10.69, hexYTicks, 22.7)
    })
  });

  // ---------------- 4. Secondary Y ----------------
  new Chart(document.getElementById('c4'), {
    type: 'scatter',
    data: {
      datasets: [
        { label: secNames[0], data: tempPoints, yAxisID: 'y', pointRadius: 2.8, pointBorderWidth: 0, pointBackgroundColor: RED },
        { label: secNames[1], data: pressurePoints, yAxisID: 'y1', pointRadius: 2.8, pointBorderWidth: 0, pointBackgroundColor: BLUE }
      ]
    },
    options: baseOptions(102, {
      x: linAxis(0, 11.886, secXTicks, 23),
      y: linAxis(14.14, 25.9, tempTicks, 39.7),
      y1: linAxis(953.3, 1046.6, pressureTicks, 33, { position: 'right', grid: { drawOnChartArea: false } })
    })
  });

  // ---------------- 5. Time axis ----------------
  new Chart(document.getElementById('c5'), {
    type: 'scatter',
    data: {
      datasets: [{ label: signalNames[0], data: signalPoints, pointRadius: 2.2, pointBorderWidth: 0, pointBackgroundColor: CYAN }]
    },
    options: baseOptions(78, {
      x: linAxis(0, 59.8, timeTicks, 39.7, {
        ticks: { callback: (v, i) => timeLabels[i] },
        title: { display: true, text: timeAxisTitle, color: '#333', font: { size: 8.5 }, padding: { top: 0, bottom: 6 } }
      }),
      y: linAxis(37.13, 62.69, signalTicks, 23)
    })
  });

  // ---------------- 6. Line + area ----------------
  new Chart(document.getElementById('c6'), {
    type: 'line',
    data: {
      datasets: [
        {
          label: curveNames[0],
          data: areaX.map((x, i) => ({ x, y: areaY[i] })),
          borderColor: BLUE, borderWidth: 2,
          backgroundColor: 'rgba(70,130,180,0.35)',
          fill: 'start', pointRadius: 0, cubicInterpolationMode: 'monotone'
        },
        {
          label: curveNames[1],
          data: lineX.map((x, i) => ({ x, y: lineY[i] })),
          borderColor: RED, borderWidth: 2,
          fill: false, pointRadius: 0, cubicInterpolationMode: 'monotone'
        }
      ]
    },
    options: baseOptions(71.3, {
      x: linAxis(0, 11.87, curveXTicks, 22),
      y: linAxis(1.66, 8.83, curveYTicks, 17.7)
    })
  });
</script>
</body>
</html>
